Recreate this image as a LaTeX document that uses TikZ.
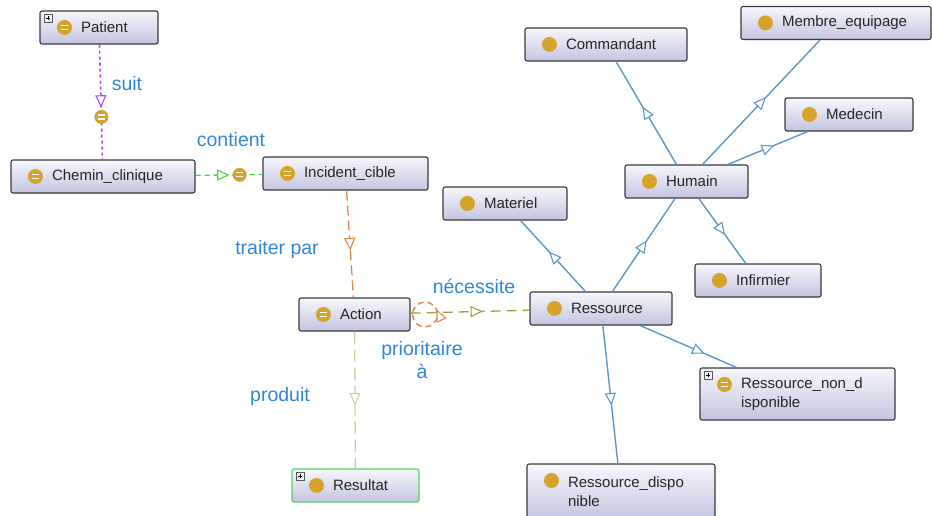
\documentclass[tikz,border=0pt]{standalone}
\usepackage{fontspec}
\setmainfont{Liberation Sans}
\usetikzlibrary{arrows.meta,decorations.markings}

\definecolor{bord}{HTML}{3A3A3A}
\definecolor{haut}{HTML}{F7F7FD}
\definecolor{bas}{HTML}{C4C4E1}
\definecolor{ocre}{HTML}{D6A32C}
\definecolor{bleulien}{HTML}{5B97CC}
\definecolor{bleutexte}{HTML}{2F87DB}
\definecolor{violetlien}{HTML}{B545E6}
\definecolor{vertlien}{HTML}{4CD64C}
\definecolor{orangelien}{HTML}{E0884C}
\definecolor{olivelien}{HTML}{A0A035}
\definecolor{kakilien}{HTML}{D6CC94}
\definecolor{vertcadre}{HTML}{55D455}

% icones des classes, placees depuis le coin haut gauche
\newcommand\pieceprim[1]{\fill[ocre] ([shift={(25,17)}]#1.north west) circle (7.5);}
\newcommand\pieceeq[1]{\pieceprim{#1}
  \draw[white, line width=1.3pt] ([shift={(21.5,15)}]#1.north west) -- ++(7,0)
    ([shift={(21.5,19)}]#1.north west) -- ++(7,0);}
\newcommand\pieceplus[1]{\draw[gray!70!black, fill=blue!4, line width=0.6pt]
    ([shift={(4.5,3.5)}]#1.north west) rectangle ++(8,8);
  \draw[line width=0.8pt] ([shift={(6.5,7.5)}]#1.north west) -- ++(4,0)
    ([shift={(8.5,5.5)}]#1.north west) -- ++(0,4);}

\tikzset{
  classe/.style={draw=bord, line width=1.1pt, rounded corners=2pt,
    top color=haut, bottom color=bas, minimum height=33pt,
    minimum width=#1, text width=#1, inner xsep=0pt, align=left,
    font=\fontsize{15}{19}\selectfont, text=black!85,
    execute at begin node={\leftskip=41pt\relax}},
  eqpoint/.style={circle, fill=ocre, minimum size=14pt, inner sep=0pt,
    path picture={\draw[solid, white, line width=1.2pt]
      ([shift={(-3.5,-2)}]path picture bounding box.center) -- ++(7,0)
      ([shift={(-3.5,2)}]path picture bounding box.center) -- ++(7,0);}},
  lien/.style={line width=1.3pt},
  lienbleu/.style={lien, bleulien, line width=1.4pt},
  mi/.style={postaction={decorate}, decoration={markings,
    mark=at position #1 with {\arrow[solid]{Triangle[length=12.5pt, width=11pt, fill=white, line width=1.1pt]}}}},
  etiq/.style={text=bleutexte, font=\fontsize{19.5}{23}\selectfont, align=center}
}

\begin{document}
\begin{tikzpicture}[x=1pt, y=-1pt]
\useasboundingbox (0,0) rectangle (932,515);
% classes
\node[classe=118] (patient) at (99,27.5) {Patient};
\node[classe=184] (chemin) at (103,176.5) {Chemin\_clinique};
\node[classe=165] (incident) at (345.5,173.5) {Incident\_cible};
\node[classe=111] (action) at (354.5,314.5) {Action};
\node[classe=127, draw=vertcadre] (resultat) at (355.5,485.5) {Resultat};
\node[classe=162] (commandant) at (606,44.5) {Commandant};
\node[classe=190] (membre) at (836,23) {Membre\_equipage};
\node[classe=128] (medecin) at (849,114.5) {Medecin};
\node[classe=123] (humain) at (686.5,181.5) {Humain};
\node[classe=124] (materiel) at (505,203.5) {Materiel};
\node[classe=126] (infirmier) at (758,280.5) {Infirmier};
\node[classe=142] (ressource) at (601,308.5) {Ressource};
\node[classe=195, minimum height=52pt] (nondispo) at (797.5,394) {Ressource\_non\_d\\isponible};
\node[classe=188, minimum height=56pt] (dispo) at (621,492) {Ressource\_dispo\\nible};
% icones
\foreach \n in {patient, chemin, incident, action, nondispo} {\pieceeq{\n}}
\foreach \n in {resultat, commandant, membre, medecin, humain, materiel, infirmier, ressource, dispo} {\pieceprim{\n}}
\foreach \n in {patient, resultat, nondispo} {\pieceplus{\n}}
% proprietes
\draw[lien, violetlien, line width=1.6pt, dash pattern=on 3pt off 3pt, mi=0.55] (patient) -- node[eqpoint, pos=0.63] (suitpt) {} (chemin);
\draw[lien, vertlien, dash pattern=on 5pt off 4pt, mi=0.51] (chemin) -- node[eqpoint, pos=0.66] (contientpt) {} (incident);
\draw[lien, orangelien, dash pattern=on 10pt off 5pt, mi=0.56] (incident) -- (action);
\draw[lien, olivelien, dash pattern=on 10pt off 6pt, mi=0.61] (action) -- (ressource);
\draw[lien, kakilien, dash pattern=on 12pt off 6pt, mi=0.54] (action) -- (resultat);
\draw[lien, orangelien, line width=1.5pt, dash pattern=on 6pt off 4pt, mi=0.57] (action.east) ++(2,0) arc[start angle=180, end angle=-180, radius=12.5];
% etiquettes
\node[etiq] (suit) at (127,84) {suit};
\node[etiq] (contient) at (231,140) {contient};
\node[etiq] (traiter) at (277,249) {traiter par};
\node[etiq] (necessite) at (474,286) {nécessite};
\node[etiq] (prioritaire) at (422,360) {prioritaire\\à};
\node[etiq] (produit) at (280,396) {produit};
% sous-classes
\draw[lienbleu, mi=0.56] (humain) -- (commandant);
\draw[lienbleu, mi=0.54] (humain) -- (membre);
\draw[lienbleu, mi=0.58] (humain) -- (medecin);
\draw[lienbleu, mi=0.56] (humain) -- (infirmier);
\draw[lienbleu, mi=0.56] (ressource) -- (materiel);
\draw[lienbleu, mi=0.55] (ressource) -- (humain);
\draw[lienbleu, mi=0.67] (ressource) -- (nondispo);
\draw[lienbleu, mi=0.58] (ressource) -- (dispo);
\end{tikzpicture}
\end{document}
